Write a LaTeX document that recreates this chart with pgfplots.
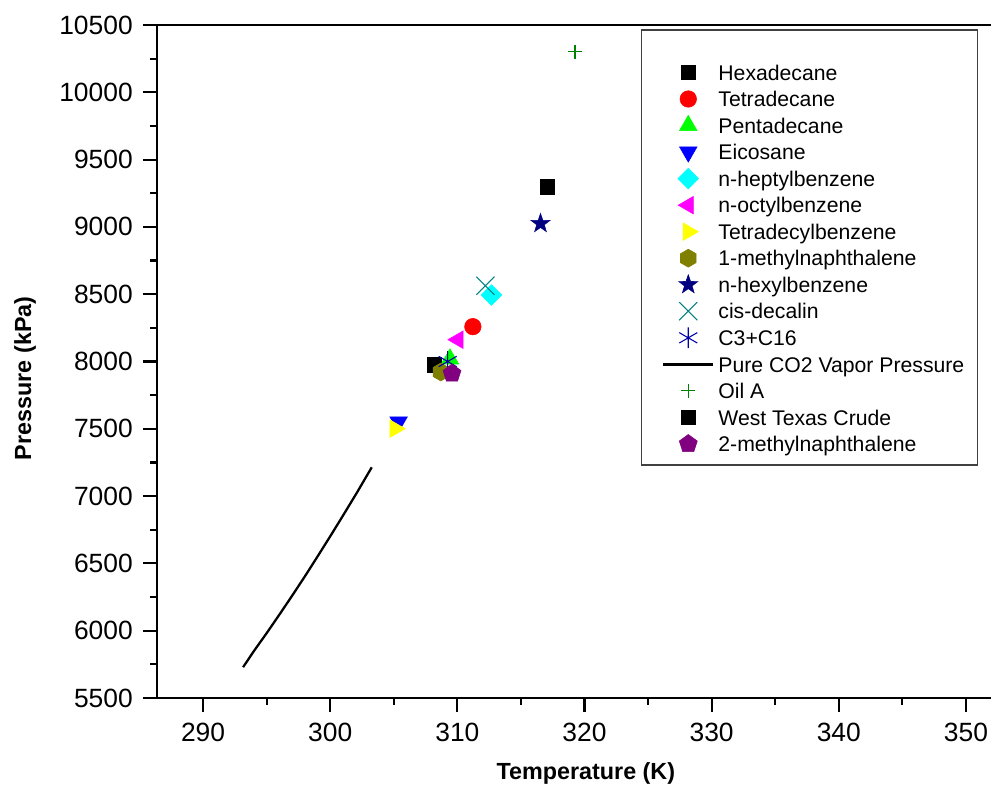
\documentclass[border=0pt]{standalone}
\usepackage{fontspec}
\setmainfont{Liberation Sans}
\usepackage{pgfplots}
\pgfplotsset{compat=1.18}
\usetikzlibrary{plotmarks}

\definecolor{olivec}{RGB}{128,128,0}
\definecolor{navyc}{RGB}{0,0,128}
\definecolor{tealc}{RGB}{0,128,128}
\definecolor{royalc}{RGB}{0,0,170}
\definecolor{greenc}{RGB}{0,128,0}
\definecolor{purplec}{RGB}{128,0,128}
\definecolor{redc}{RGB}{255,0,0}
\definecolor{limec}{RGB}{0,255,0}
\definecolor{bluec}{RGB}{0,0,255}
\definecolor{cyanc}{RGB}{0,255,255}
\definecolor{magc}{RGB}{255,0,255}
\definecolor{yelc}{RGB}{255,255,0}

\pgfdeclareplotmark{hexagon*}{%
  \pgfpathmoveto{\pgfpointpolar{90}{\pgfplotmarksize}}%
  \pgfpathlineto{\pgfpointpolar{150}{\pgfplotmarksize}}%
  \pgfpathlineto{\pgfpointpolar{210}{\pgfplotmarksize}}%
  \pgfpathlineto{\pgfpointpolar{270}{\pgfplotmarksize}}%
  \pgfpathlineto{\pgfpointpolar{330}{\pgfplotmarksize}}%
  \pgfpathlineto{\pgfpointpolar{30}{\pgfplotmarksize}}%
  \pgfpathclose\pgfusepathqfillstroke}
\pgfdeclareplotmark{fstar}{%
  \pgfpathmoveto{\pgfpointpolar{90}{\pgfplotmarksize}}%
  \pgfpathlineto{\pgfpointpolar{126}{0.4\pgfplotmarksize}}%
  \pgfpathlineto{\pgfpointpolar{162}{\pgfplotmarksize}}%
  \pgfpathlineto{\pgfpointpolar{198}{0.4\pgfplotmarksize}}%
  \pgfpathlineto{\pgfpointpolar{234}{\pgfplotmarksize}}%
  \pgfpathlineto{\pgfpointpolar{270}{0.4\pgfplotmarksize}}%
  \pgfpathlineto{\pgfpointpolar{306}{\pgfplotmarksize}}%
  \pgfpathlineto{\pgfpointpolar{342}{0.4\pgfplotmarksize}}%
  \pgfpathlineto{\pgfpointpolar{18}{\pgfplotmarksize}}%
  \pgfpathlineto{\pgfpointpolar{54}{0.4\pgfplotmarksize}}%
  \pgfpathclose\pgfusepathqfillstroke}

\pgfplotsset{
  mk/.style={only marks,
    legend image code/.code={\path (0pt,0pt) (37.5pt,0pt);
      \draw[mark repeat=2,mark phase=2,##1] plot coordinates {(0pt,0pt) (18.75pt,0pt) (37.5pt,0pt)};}},
  ln/.style={legend image code/.code={\draw[##1] (0pt,0pt) -- (37.5pt,0pt);}},
}

\begin{document}
\begin{tikzpicture}
\begin{axis}[
  name=ax,
  scale only axis,
  width=625.8pt, height=504.75pt,
  xmin=286.38, xmax=352, ymin=5500, ymax=10500,
  scaled ticks=false,
  axis x line=box, axis y line=left,
  axis line style={-, line width=1.8pt},
  tick pos=left,
  xtick={290,300,...,350},
  ytick={5500,6000,...,10500},
  minor x tick num=1, minor y tick num=1,
  tick align=outside,
  major tick length=10.5pt, minor tick length=5.2pt,
  every tick/.style={black, line width=1.6pt},
  /pgf/number format/assume math mode=true,
  /pgf/number format/1000 sep={},
  tick label style={font=\fontsize{19.8}{22}\selectfont, inner sep=0pt},
  xticklabel shift=8pt,
  yticklabel shift=7.5pt,
  xlabel={Temperature (K)},
  ylabel={Pressure (kPa)},
  label style={font=\fontsize{17.5}{20}\selectfont\bfseries},
  xlabel style={at={([yshift=-56.25pt]axis description cs:0.514,0)}, anchor=center},
  ylabel style={at={([xshift=-99pt]axis description cs:0,0.475)}, anchor=center},
  legend cell align=left,
  legend style={draw=none, fill=none, at={(0.6054,0.9447)}, anchor=north west,
    inner sep=0pt, outer sep=0pt,
    font=\fontsize{15.9}{18}\selectfont,
    row sep=4.475pt, column sep=3pt,
    nodes={inner sep=0pt, text height=13.4pt, text depth=2pt}},
]
% Hexadecane
\addplot[mk, black, mark=square*, mark size=5.4pt] coordinates {(308.2,7976)};
\addlegendentry{Hexadecane}
% Tetradecane
\addplot[mk, redc, mark=*, mark size=6.2pt] coordinates {(311.22,8259)};
\addlegendentry{Tetradecane}
% Pentadecane
\addplot[mk, limec, mark=triangle*, mark size=7.6pt] coordinates {(309.42,8019)};
\addlegendentry{Pentadecane}
% Eicosane
\addplot[mk, bluec, mark=triangle*, mark size=7.6pt, mark options={rotate=180}] coordinates {(305.38,7551)};
\addlegendentry{Eicosane}
% n-heptylbenzene
\addplot[mk, cyanc, mark=square*, mark size=5.5pt, mark options={rotate=45}] coordinates {(312.68,8494)};
\addlegendentry{n-heptylbenzene}
% n-octylbenzene
\addplot[mk, magc, mark=triangle*, mark size=7.6pt, mark options={rotate=90}] coordinates {(310.05,8162)};
\addlegendentry{n-octylbenzene}
% Tetradecylbenzene
\addplot[mk, yelc, mark=triangle*, mark size=7.6pt, mark options={rotate=-90}] coordinates {(305.1,7501)};
\addlegendentry{Tetradecylbenzene}
% 1-methylnaphthalene
\addplot[mk, olivec, mark=hexagon*, mark size=6.75pt] coordinates {(308.7,7922)};
\addlegendentry{1-methylnaphthalene}
% n-hexylbenzene
\addplot[mk, navyc, mark=fstar, mark size=7.5pt] coordinates {(316.54,9025)};
\addlegendentry{n-hexylbenzene}
% cis-decalin
\addplot[mk, tealc, mark=x, mark size=9.6pt, mark options={line width=0.8pt}] coordinates {(312.21,8563)};
\addlegendentry{cis-decalin}
% C3+C16
\addplot[mk, royalc, mark=asterisk, mark size=7.8pt, mark options={line width=0.8pt}] coordinates {(309.24,8000)};
\addlegendentry{C3+C16}
% Pure CO2 vapor pressure
\addplot[ln, black, line width=1.7pt, no marks] coordinates {
  (293.15,5729) (294.01,5850) (295.02,5984) (296.03,6123) (297.05,6266)
  (298.06,6411) (299.07,6561) (300.08,6713) (301.09,6868) (302.11,7027)
  (303.12,7190) (303.27,7214)};
\addlegendentry{Pure CO2 Vapor Pressure}
% Oil A
\addplot[mk, greenc, mark=+, mark size=5.2pt, mark options={line width=0.8pt}] coordinates {(319.25,10300)};
\addlegendentry{Oil A}
% West Texas Crude
\addplot[mk, black, mark=square*, mark size=5.4pt] coordinates {(317.05,9298)};
\addlegendentry{West Texas Crude}
% 2-methylnaphthalene
\addplot[mk, purplec, mark=pentagon*, mark size=7.1pt] coordinates {(309.58,7911)};
\addlegendentry{2-methylnaphthalene}

\draw[line width=0.9pt, black!75] (rel axis cs:0.5802,0.9926) rectangle (rel axis cs:0.9830,0.3462);
\end{axis}
\pgfresetboundingbox
\path ([xshift=-117.75pt,yshift=-70.5pt]ax.south west) rectangle ++(743.25pt,594pt);
\end{tikzpicture}
\end{document}
